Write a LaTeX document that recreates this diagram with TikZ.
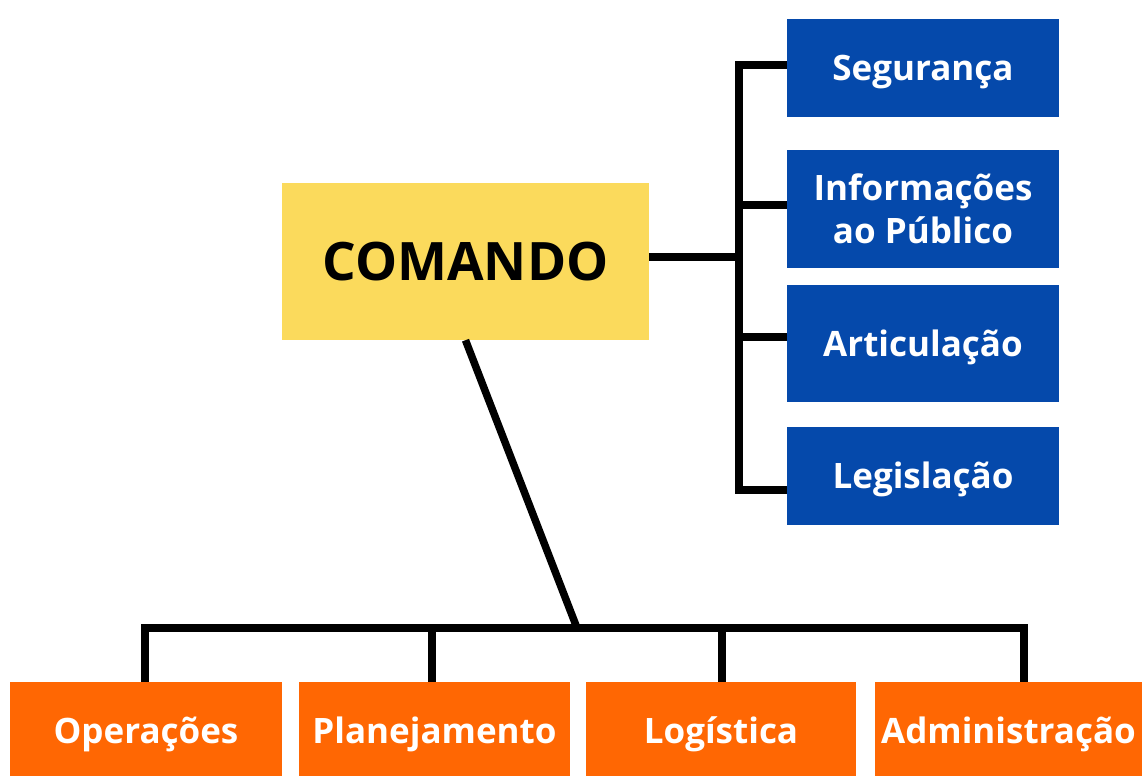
\documentclass[tikz,border=0pt]{standalone}
\usepackage{fontspec}
\setmainfont{Open Sans}
\usetikzlibrary{positioning, calc}

\definecolor{cmdyellow}{HTML}{FBDA5C}
\definecolor{staffblue}{HTML}{0549AB}
\definecolor{sectorange}{HTML}{FF6703}

\begin{document}
\begin{tikzpicture}[x=1pt, y=-1pt,
  box/.style={inner sep=0pt, font=\fontsize{35}{43}\selectfont\bfseries},
  oneline/.style={text height=25pt, text depth=0pt},
  staff/.style={box, fill=staffblue, text=white, minimum width=272pt},
  sect/.style={box, text height=29pt, text depth=0pt, fill=sectorange, text=white, minimum height=94pt},
  link/.style={line width=7.5pt, black}]
\useasboundingbox (0,0) rectangle (1142,776);
\fill[white] (0,0) rectangle (1142,776);

% Command
\node[box, text height=38pt, text depth=0pt, fill=cmdyellow, minimum width=367pt, minimum height=157pt,
  font=\fontsize{53}{60}\selectfont\bfseries] (cmd) at (465.5,261.5) {COMANDO};

% Staff on the right
\node[staff, oneline, minimum height=98pt]  (seg)  at (923,68)    {Segurança};
\node[staff, align=center, minimum height=118pt] (info) at (923,209) {Informações\\ao Público};
\node[staff, oneline, minimum height=117pt] (art)  at (923,343.5) {Articulação};
\node[staff, oneline, minimum height=98pt]  (leg)  at (923,476)   {Legislação};

% Sections at the bottom
\node[sect, minimum width=272pt] (ops)  at (146,729)    {Operações};
\node[sect, minimum width=271pt] (plan) at (434.5,729)  {Planejamento};
\node[sect, minimum width=270pt] (logi) at (721,729)    {Logística};
\node[sect, minimum width=267pt] (adm)  at (1008.5,729) {Administração};

\coordinate (spine) at (739,257);
\coordinate (hub) at (577,628);

% Staff connectors
\draw[link] ([yshift=4.5pt]cmd.east) -- (spine);
\draw[link] ([yshift=3pt]seg.west) -| (spine) |- ([yshift=-14pt]leg.west);
\draw[link] ([yshift=4pt]info.west) -- ([yshift=4pt]info.west -| spine);
\draw[link] ([yshift=6.5pt]art.west) -- ([yshift=6.5pt]art.west -| spine);

% Section connectors
\draw[link] (cmd.south) -- (hub);
\draw[link] ([xshift=-1pt]ops.north) |- (hub) -| ([xshift=15.5pt]adm.north);
\draw[link] ([xshift=-2.5pt]plan.north) -- ([xshift=-2.5pt]plan.north |- hub);
\draw[link] ([xshift=1pt]logi.north) -- ([xshift=1pt]logi.north |- hub);
\end{tikzpicture}
\end{document}
